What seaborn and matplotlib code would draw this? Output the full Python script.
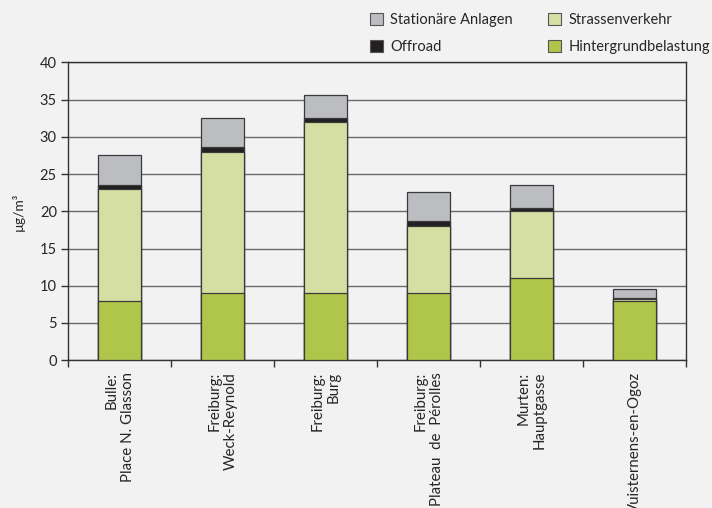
import numpy as np
import pandas as pd
import matplotlib
matplotlib.use('Agg')
import matplotlib.pyplot as plt
from matplotlib.patches import Patch
import seaborn as sns

# Data (µg/m3)
stations = ['Bulle:\nPlace N. Glasson', 'Freiburg:\nWeck-Reynold', 'Freiburg:\nBurg',
            'Freiburg:\nPlateau  de  Pérolles', 'Murten:\nHauptgasse', 'Vuisternens-en-Ogoz']
hintergrund = [8.0, 9.0, 9.0, 9.0, 11.0, 8.0]
strassen = [15.0, 19.0, 23.0, 9.0, 9.0, 0.2]
offroad = [0.6, 0.65, 0.6, 0.65, 0.5, 0.1]
stationaer = [4.0, 3.95, 3.0, 4.0, 3.1, 1.2]

layers = ['Hintergrundbelastung', 'Strassenverkehr', 'Offroad', 'Stationäre Anlagen']
colors = {'Hintergrundbelastung': '#afc64a', 'Strassenverkehr': '#d6dfa3',
          'Offroad': '#231f20', 'Stationäre Anlagen': '#bcbdc1'}

df = pd.DataFrame({'station': stations, 'Hintergrundbelastung': hintergrund,
                   'Strassenverkehr': strassen, 'Offroad': offroad,
                   'Stationäre Anlagen': stationaer})
# cumulative heights, so the stacks can be drawn tallest first
cum = df[layers].cumsum(axis=1)

sns.set_style('white')
plt.rcParams['font.family'] = ['Lato', 'DejaVu Sans']
bg = '#f2f2f2'

fig = plt.figure(figsize=(7.12, 5.08), dpi=100, facecolor=bg)
ax = fig.add_axes([0.0955, 0.291, 0.868, 0.586])
ax.set_facecolor(bg)

for layer in reversed(layers):
    sns.barplot(x=df['station'], y=cum[layer], color=colors[layer], width=0.41,
                edgecolor='#3a3a3a', linewidth=0.9, saturation=1, ax=ax, zorder=3)

ax.set_ylim(0, 40)
ax.set_xlim(-0.5, 5.5)
ax.set_yticks(np.arange(0, 41, 5))
ax.yaxis.grid(True, color='#6a6a6a', linewidth=1.0, zorder=0)
ax.set_axisbelow(True)
for s in ax.spines.values():
    s.set_color('#333333')
    s.set_linewidth(1.0)

ax.set_xlabel('')
ax.set_ylabel('µg/m³', fontsize=10, labelpad=11)
ax.tick_params(axis='y', length=5, width=1, color='#333333', labelsize=10.5, pad=3, left=True)
ax.tick_params(axis='x', which='major', length=0, pad=8.5)
ax.set_xticks(range(len(stations)))
ax.set_xticklabels(stations, rotation=90, fontsize=10.8, va='top', ha='center',
                   multialignment='right', linespacing=1.2)
ax.set_xticks(np.arange(-0.5, 6, 1), minor=True)
ax.tick_params(axis='x', which='minor', length=5, width=1, color='#333333', bottom=True)

handles = [Patch(facecolor=colors[l], edgecolor='#555555', linewidth=0.8) for l in
           ['Stationäre Anlagen', 'Offroad', 'Strassenverkehr', 'Hintergrundbelastung']]
labels = ['Stationäre Anlagen', 'Offroad', 'Strassenverkehr', 'Hintergrundbelastung']
fig.legend(handles, labels, ncol=2, loc='upper left', bbox_to_anchor=(0.501, 1.0),
           frameon=False, fontsize=10.5, handlelength=0.9, handleheight=0.9,
           columnspacing=2.4, labelspacing=0.85, handletextpad=0.5)

fig.savefig('out.png', dpi=100, facecolor=bg)
